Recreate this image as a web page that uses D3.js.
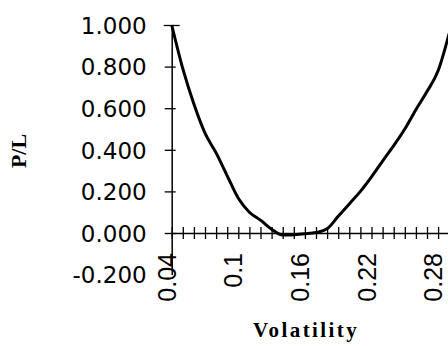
<!DOCTYPE html>
<html lang="en">
<head>
    <meta charset="UTF-8">
    <title>P/L vs Volatility</title>
    <script src="https://cdn.jsdelivr.net/npm/d3@7"></script>
    <style>
        body { margin: 0; background: #fff; }
        text.tick-y { font-family: "DejaVu Sans", sans-serif; font-size: 23px; fill: #000; }
        text.tick-x { font-family: "Liberation Sans", Arial, sans-serif; font-size: 25px; fill: #000; }
        text.axis-title { font-family: "Liberation Serif", "Times New Roman", serif; font-weight: bold; fill: #000; }
    </style>
</head>
<body>
<div id="chart"></div>
<script>
    // volatility (x) and P/L (y)
    var volatility = [0.04, 0.05, 0.06, 0.07, 0.08, 0.09, 0.10, 0.11, 0.12, 0.13, 0.14, 0.15, 0.16,
                      0.17, 0.18, 0.19, 0.20, 0.21, 0.22, 0.23, 0.24, 0.25, 0.26, 0.27, 0.28, 0.29];
    var pl = [1.000, 0.790, 0.620, 0.480, 0.385, 0.275, 0.167, 0.100, 0.062, 0.018, -0.010, -0.008, -0.004,
              0.002, 0.020, 0.080, 0.140, 0.200, 0.270, 0.346, 0.420, 0.500, 0.593, 0.680, 0.780, 0.960];
    var yTicks = [-0.2, 0, 0.2, 0.4, 0.6, 0.8, 1.0];
    var xLabelTicks = [0.04, 0.1, 0.16, 0.22, 0.28];
    var xMinorTicks = d3.range(4, 30).map(function (i) { return i / 100; });

    var W = 448, H = 346;
    var svg = d3.select("#chart").append("svg")
        .attr("width", W).attr("height", H);

    var x = d3.scaleLinear().domain([0.04, 0.29]).range([171.7, 449.2]);
    var y = d3.scaleLinear().domain([-0.2, 1.0]).range([274.6, 25]);

    var fmt = d3.format(".3f");

    // y axis
    var yAxis = svg.append("g")
        .attr("transform", "translate(" + x(0.04) + ",0)")
        .call(d3.axisLeft(y).tickValues(yTicks)
            .tickFormat(function (d) { return fmt(d).replace("\u2212", "-"); })
            .tickSizeOuter(0).tickSizeInner(7).tickPadding(18));
    yAxis.select(".domain").attr("stroke", "#000").attr("stroke-width", 1.5);
    yAxis.selectAll(".tick line")
        .attr("x1", function (d) { return d === 1.0 ? 8 : 4; })
        .attr("x2", function (d) { return d === 1.0 ? -8 : -7; })
        .attr("stroke-width", 1.3)
        .style("display", function (d) { return d === -0.2 ? "none" : null; });
    yAxis.selectAll(".tick text").attr("class", "tick-y").attr("dy", "0.36em");

    // x axis at zero with crossing minor ticks
    var xAxis = svg.append("g")
        .attr("transform", "translate(0," + y(0) + ")")
        .call(d3.axisBottom(x).tickValues(xMinorTicks).tickFormat("").tickSizeOuter(0).tickSizeInner(6));
    xAxis.select(".domain").attr("stroke", "#000").attr("stroke-width", 1.5);
    xAxis.selectAll(".tick line").attr("y1", -6).attr("stroke-width", 1.3);

    // rotated x labels
    svg.append("g").selectAll("text")
        .data(xLabelTicks)
        .enter().append("text")
        .attr("class", "tick-x")
        .attr("transform", function (d) { return "translate(" + x(d) + ",253) rotate(-90)"; })
        .attr("text-anchor", "end")
        .attr("dy", "0.16em")
        .text(function (d) { return String(d); });

    // curve
    var line = d3.line()
        .curve(d3.curveMonotoneX)
        .x(function (d, i) { return x(volatility[i]); })
        .y(function (d) { return y(d); });
    svg.append("path")
        .datum(pl)
        .attr("fill", "none")
        .attr("stroke", "#000")
        .attr("stroke-width", 3)
        .attr("stroke-linejoin", "round")
        .attr("d", line);

    // titles
    svg.append("text")
        .attr("class", "axis-title")
        .attr("transform", "translate(26,151) rotate(-90)")
        .attr("text-anchor", "middle")
        .style("font-size", "22px")
        .text("P/L");
    svg.append("text")
        .attr("class", "axis-title")
        .attr("x", 306).attr("y", 337)
        .attr("text-anchor", "middle")
        .style("font-size", "21px")
        .style("letter-spacing", "2.4px")
        .text("Volatility");
</script>
</body>
</html>
